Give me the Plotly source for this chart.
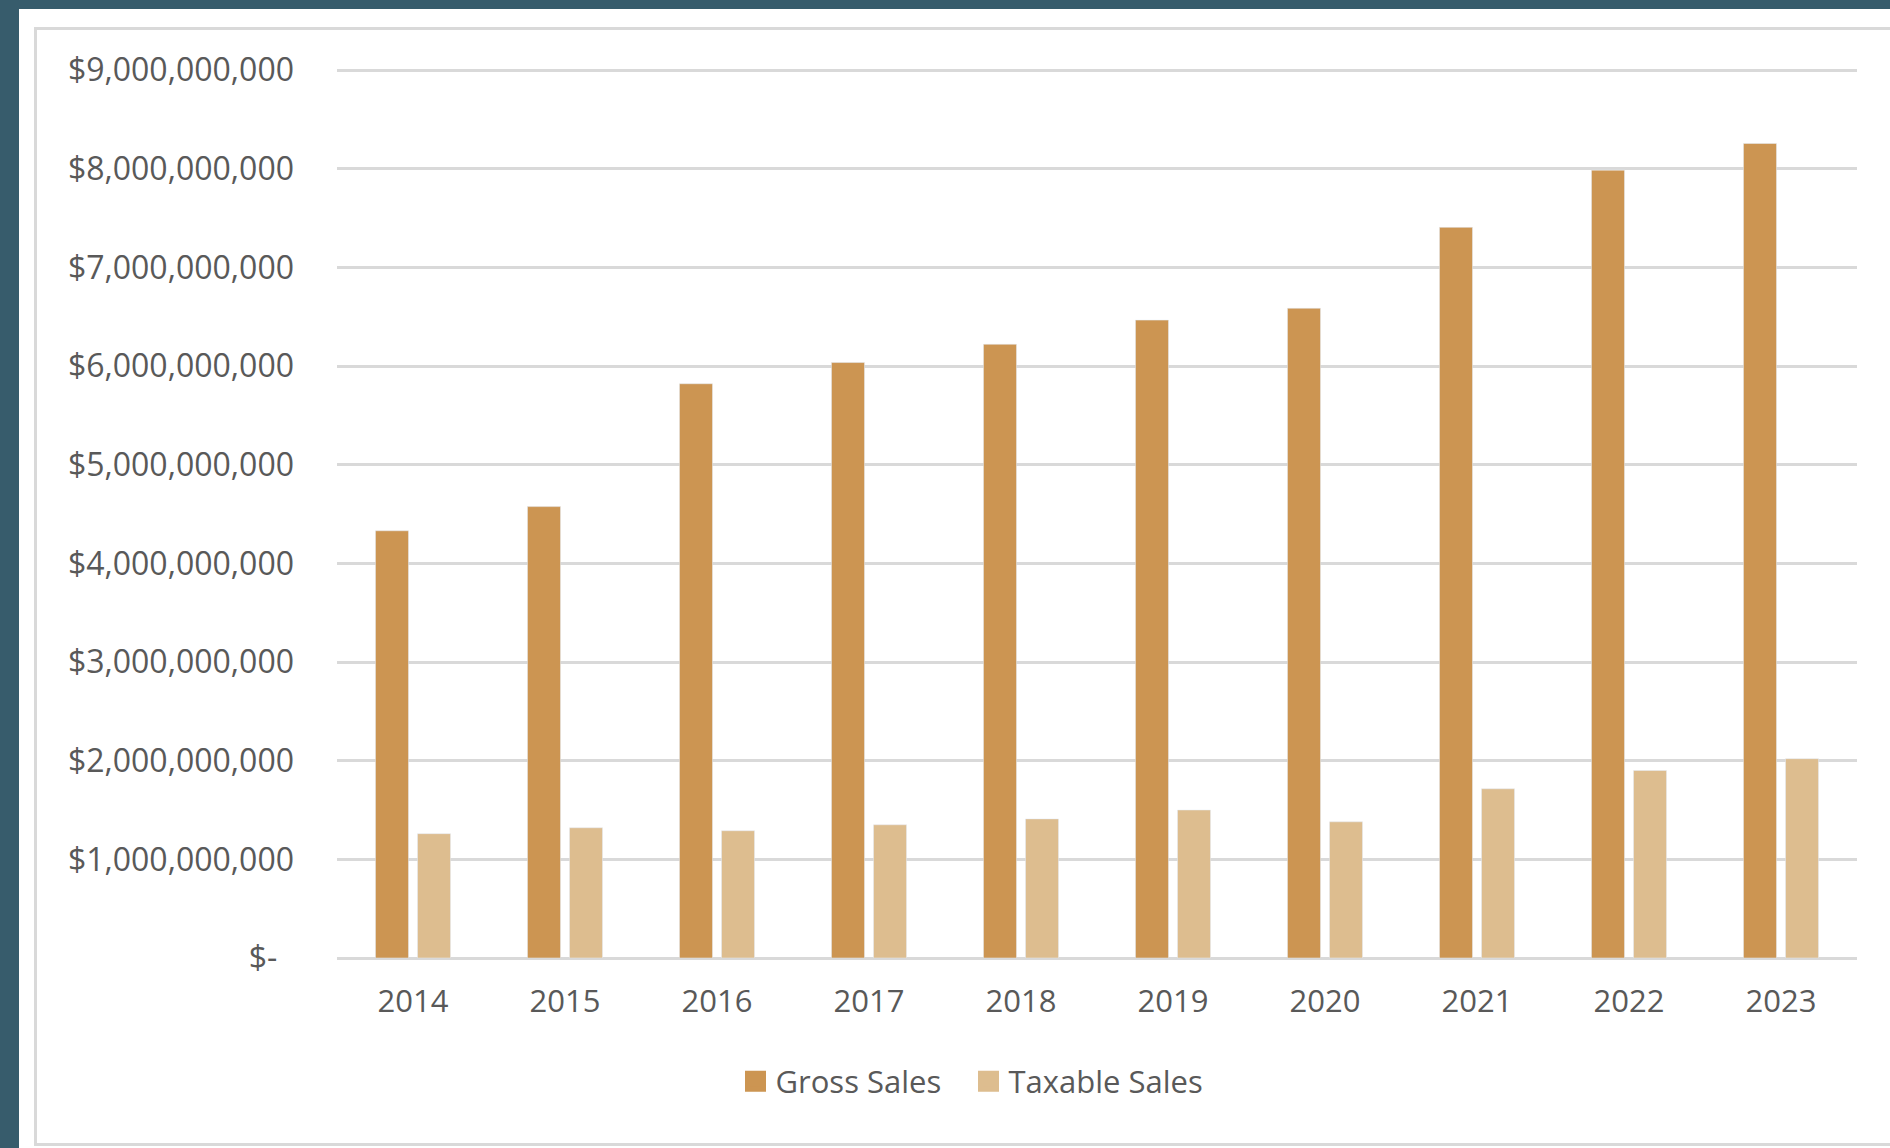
import plotly.graph_objects as go

# Sales by year
years = ["2014", "2015", "2016", "2017", "2018", "2019", "2020", "2021", "2022", "2023"]
gross_sales = [4.33e9, 4.575e9, 5.82e9, 6.035e9, 6.22e9, 6.465e9, 6.585e9, 7.405e9, 7.985e9, 8.255e9]
taxable_sales = [1.26e9, 1.32e9, 1.29e9, 1.35e9, 1.41e9, 1.50e9, 1.38e9, 1.715e9, 1.90e9, 2.02e9]

# Value axis ticks
y_tick_values = [0, 1e9, 2e9, 3e9, 4e9, 5e9, 6e9, 7e9, 8e9, 9e9]
y_tick_labels = ["$-\u00a0\u00a0"] + [f"${v:,.0f}" for v in y_tick_values[1:]]

GROSS_COLOR = "#CC9552"
TAXABLE_COLOR = "#DDBD8F"
GRID_COLOR = "#D9D9D9"
TEXT_COLOR = "#595959"
FONT = "Open Sans, Noto Sans, DejaVu Sans, sans-serif"

W, H = 1890, 1148
ML, MR, MT, MB = 337, 33, 60, 190
PW, PH = W - ML - MR, H - MT - MB
# pixels per billion, so that $9B lands just below the plot top
PX_PER_UNIT = 888 / 9e9
Y_MAX = PH / PX_PER_UNIT


def px_x(x):
    return (x - ML) / PW


def px_y(y):
    return (H - MB - y) / PH


fig = go.Figure()
fig.add_trace(go.Bar(x=years, y=gross_sales, name="Gross Sales",
                     marker_color=GROSS_COLOR, showlegend=False))
fig.add_trace(go.Bar(x=years, y=taxable_sales, name="Taxable Sales",
                     marker_color=TAXABLE_COLOR, showlegend=False))

# Legend entries with larger square swatches, one legend box each
for name, color, legend_id in [("Gross Sales", GROSS_COLOR, "legend"),
                               ("Taxable Sales", TAXABLE_COLOR, "legend2")]:
    fig.add_trace(go.Scatter(x=[None], y=[None], mode="markers", name=name,
                             legend=legend_id,
                             marker=dict(symbol="square", size=16, color=color,
                                         line=dict(width=5, color=color))))

shapes = [
    # white card on the dark page
    dict(type="rect", xref="paper", yref="paper", layer="below",
         x0=px_x(19), x1=px_x(1895), y0=px_y(1150), y1=px_y(9),
         fillcolor="white", line=dict(width=0)),
    # light grey chart border
    dict(type="rect", xref="paper", yref="paper", layer="below",
         x0=px_x(35.5), x1=px_x(1905), y0=px_y(1144.5), y1=px_y(28.5),
         fillcolor="rgba(0,0,0,0)", line=dict(width=3, color=GRID_COLOR)),
]

legend_style = dict(orientation="h", xanchor="left", y=px_y(1081.5), yanchor="middle",
                    font=dict(size=31, color=TEXT_COLOR, family=FONT),
                    bgcolor="rgba(0,0,0,0)", itemclick=False)

fig.update_layout(
    width=W, height=H,
    margin=dict(l=ML, r=MR, t=MT, b=MB, pad=0),
    paper_bgcolor="#375C6C",
    plot_bgcolor="rgba(0,0,0,0)",
    barmode="group",
    bargap=0.447,
    bargroupgap=0.214,
    font=dict(family=FONT, color=TEXT_COLOR),
    shapes=shapes,
    showlegend=True,
    legend=dict(x=px_x(735.5), **legend_style),
    legend2=dict(x=px_x(968.5), **legend_style),
    xaxis=dict(type="category", showgrid=False, showline=False, zeroline=False,
               ticks="", tickfont=dict(size=31, color=TEXT_COLOR),
               ticklabelstandoff=22, fixedrange=True),
    yaxis=dict(range=[0, Y_MAX], tickvals=y_tick_values, ticktext=y_tick_labels,
               showgrid=True, gridcolor=GRID_COLOR, gridwidth=3,
               zeroline=True, zerolinecolor=GRID_COLOR, zerolinewidth=3,
               showline=False, ticks="", tickfont=dict(size=32, color=TEXT_COLOR),
               ticklabelstandoff=42, fixedrange=True),
)

fig.write_html("out.html")
